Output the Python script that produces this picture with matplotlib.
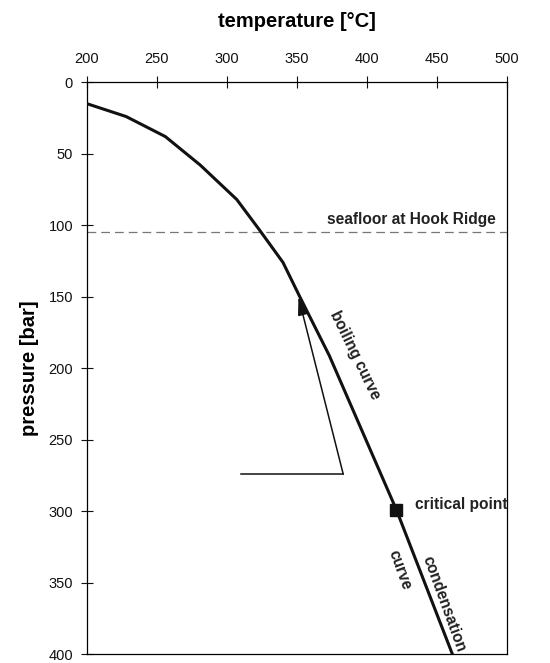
import matplotlib.pyplot as plt

plt.rcParams['font.family'] = ['Liberation Sans', 'DejaVu Sans']

# Curva de ebullición / condensación (temperatura °C, presión bar)
temperatura = [200, 228, 256, 281, 307, 323, 340, 352, 373, 421, 461]
presion = [15, 24, 38, 58, 82, 103, 126, 150, 191, 299, 400]

# Punto crítico
t_critico = 421
p_critico = 299

# Fondo marino en Hook Ridge
p_fondo = 105

# Flecha (recorrido)
flecha_t = [310, 383]
flecha_p = [274, 274]
flecha_punta = (351, 150)

ticks_t = [200, 250, 300, 350, 400, 450, 500]
ticks_p = [0, 50, 100, 150, 200, 250, 300, 350, 400]

fig = plt.figure(figsize=(5.5, 6.63), dpi=100)
ax = fig.add_axes([0.158, 0.013, 0.764, 0.863])

ax.plot(temperatura, presion, color='#111111', lw=2.2, zorder=3)
ax.axhline(p_fondo, color='#777777', lw=0.9, dashes=(7, 4))
ax.plot(t_critico, p_critico, 's', color='#111111', ms=9, zorder=4)

# Flecha
ax.plot(flecha_t, flecha_p, color='#111111', lw=1.1)
ax.annotate('', xy=flecha_punta, xytext=(flecha_t[1], flecha_p[1]),
            arrowprops=dict(arrowstyle='-|>,head_length=1.1,head_width=0.3',
                            color='#111111', lw=1.1, shrinkA=0, shrinkB=0))

# Textos
ax.text(492, 101, 'seafloor at Hook Ridge', ha='right', va='bottom',
        fontsize=11.2, fontweight='bold', color='#222222')
ax.text(434, 295, 'critical point', ha='left', va='center',
        fontsize=11.2, fontweight='bold', color='#222222')
ax.text(391, 191, 'boiling curve', ha='center', va='center', rotation=-64,
        fontsize=11.2, fontweight='bold', color='#222222')
ax.text(455, 365, 'condensation', ha='center', va='center', rotation=-70,
        fontsize=11.2, fontweight='bold', color='#222222')
ax.text(423, 341, 'curve', ha='center', va='center', rotation=-70,
        fontsize=11.2, fontweight='bold', color='#222222')

ax.set_xlim(200, 500)
ax.set_ylim(400, 0)
ax.xaxis.tick_top()
ax.xaxis.set_label_position('top')
ax.set_xticks(ticks_t)
ax.set_yticks(ticks_p)
ax.tick_params(direction='inout', length=8, width=0.8, labelsize=10.5, colors='#111111', pad=6)
ax.tick_params(axis='x', pad=8)
for s in ax.spines.values():
    s.set_linewidth(0.9)

ax.set_xlabel('temperature [°C]', fontsize=14.5, fontweight='bold', labelpad=18)
ax.set_ylabel('pressure [bar]', fontsize=14.5, fontweight='bold', labelpad=7)

plt.savefig('out.png', dpi=100)
